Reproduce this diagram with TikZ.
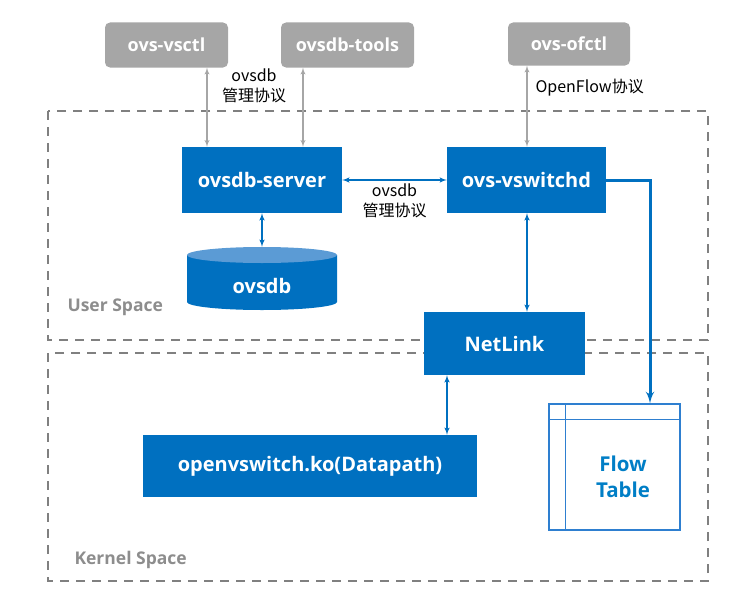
\documentclass[tikz,border=0pt]{standalone}
\usepackage{fontspec}
\setmainfont{Open Sans}
\newfontfamily\cjk{Noto Sans CJK SC}
\usepackage{tikz}
\usetikzlibrary{arrows}
\usetikzlibrary{calc}
\usetikzlibrary{positioning}
\definecolor{ovsblue}{HTML}{0070C0}
\definecolor{ovslight}{HTML}{5B9BD5}
\definecolor{tabline}{HTML}{2E7FD0}
\definecolor{toolgray}{HTML}{A6A6A6}
\definecolor{zonegray}{HTML}{808080}
\tikzstyle{block} = [fill=ovsblue, rectangle, text=white,
    font=\fontsize{20}{24}\selectfont\bfseries, minimum height=66pt]
\tikzstyle{tool} = [fill=toolgray, rectangle, rounded corners=5pt, text=white,
    font=\fontsize{18}{22}\selectfont\bfseries, minimum height=45pt]
\tikzstyle{zone} = [draw=zonegray, line width=2pt, dash pattern=on 9pt off 7pt]
\tikzstyle{zonelabel} = [text=zonegray!90, font=\fontsize{17.5}{21}\selectfont\bfseries, anchor=west]
\tikzstyle{proto} = [font=\cjk\fontsize{16}{20}\selectfont, align=center]
\tikzstyle{garrow} = [<->, draw=toolgray, line width=1.3pt]
\tikzstyle{barrow} = [<->, draw=ovsblue, line width=1.5pt]
\tikzstyle{flowtab} = [draw=tabline, line width=1.2pt, rectangle, minimum width=131pt, minimum height=126pt]
\tikzstyle{input} = [coordinate]

\begin{document}
\begin{tikzpicture}[auto, >=latex', x=1pt, y=-1pt]
    \useasboundingbox (0,0) rectangle (754,602);
    % user / kernel space
    \draw [zone] (48,111) rectangle (708,340);
    \draw [zone] (48,353) rectangle (708,581);
    \node [zonelabel] at (64,307) (userlbl) {User Space};
    \node [zonelabel] at (71,560) (kernlbl) {Kernel Space};
    % tools
    \node [tool, minimum width=123pt] at (166.5,45) (vsctl) {ovs-vsctl};
    \node [tool, minimum width=133pt] at (347.5,45) (tools) {ovsdb-tools};
    \node [tool, minimum width=122pt, minimum height=43pt] at (569,44) (ofctl) {ovs-ofctl};
    % daemons
    \node [block, minimum width=160pt] at (262,180) (server) {ovsdb-server};
    \node [block, minimum width=159pt] at (526.5,180) (vswitchd) {ovs-vswitchd};
    \node [block, minimum width=161pt, minimum height=63pt] at (504.5,343.5) (netlink) {NetLink};
    \node [block, minimum width=334pt, minimum height=62pt] at (310,466) (datapath) {openvswitch.ko(Datapath)};
    % ovsdb cylinder
    \fill [ovsblue] (187,255) -- (187,302) arc [start angle=180, end angle=360, x radius=75pt, y radius=8pt] -- (337,255) -- cycle;
    \fill [ovslight] (262,255) ellipse [x radius=75pt, y radius=8pt];
    \node [minimum width=150pt, minimum height=63pt] at (262,278.5) (db) {};
    \node [text=white, font=\fontsize{20}{24}\selectfont\bfseries] at (262,286) (dbtext) {ovsdb};
    % flow table
    \node [flowtab] at (614.5,467) (flow) {};
    \draw [tabline, line width=1.2pt] ([xshift=17pt]flow.north west) -- ([xshift=17pt]flow.south west);
    \draw [tabline, line width=1.2pt] ([yshift=-16pt]flow.north west) -- ([yshift=-16pt]flow.north east);
    \node [text=ovsblue!90!cyan, font=\fontsize{20.5}{26}\selectfont\bfseries, align=center] at (623,477) (flowtext) {Flow\\Table};
    % helper columns
    \node [input, name=xvsctl] at (207,0) {};
    \node [input, name=xtools] at (303,0) {};
    \node [input, name=xofctl] at (527,0) {};
    \node [input, name=xdp] at (447,0) {};
    \node [input, name=xflow] at (650,0) {};
    % connections
    \draw [garrow] (vsctl.south -| xvsctl) -- (server.north -| xvsctl);
    \draw [garrow] (tools.south -| xtools) -- (server.north -| xtools);
    \node [proto] at (254,86) (mgmt) {ovsdb\\管理协议};
    \draw [garrow] (ofctl.south -| xofctl) -- (vswitchd.north -| xofctl);
    \node [proto, anchor=west] at (532,88) (oflbl) {OpenFlow协议};
    \draw [barrow] (server.east) -- node [proto, below=0pt, midway] (mgmt2) {ovsdb\\管理协议} (vswitchd.west);
    \draw [barrow] (server.south) -- (db.north);
    \draw [barrow] (vswitchd.south -| xofctl) -- (netlink.north -| xofctl);
    \draw [barrow] (netlink.south -| xdp) -- (datapath.north -| xdp);
    \draw [->, ovsblue, line width=3pt] (vswitchd.east) -| (flow.north -| xflow);
\end{tikzpicture}
\end{document}
